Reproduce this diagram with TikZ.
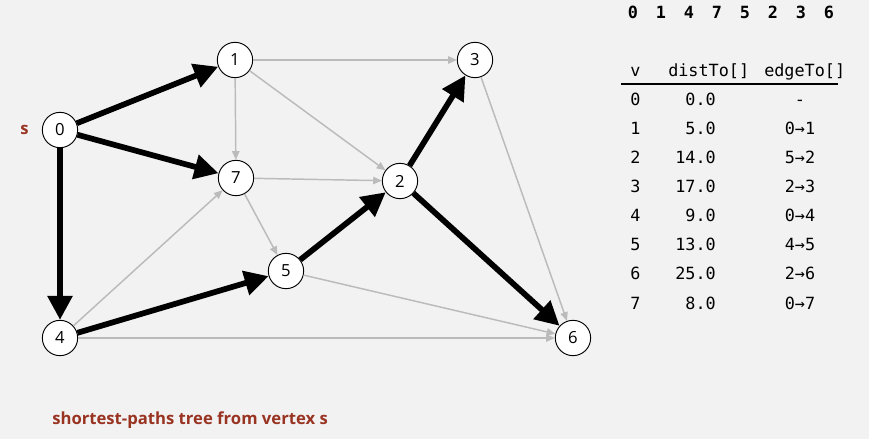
\documentclass[tikz,border=0pt]{standalone}
\usepackage{fontspec}
\setmainfont{Open Sans}
\setmonofont{DejaVu Sans Mono}
\usetikzlibrary{arrows.meta}
\definecolor{bggray}{HTML}{F2F2F2}
\definecolor{edgegray}{HTML}{BBBBBB}
\definecolor{capred}{HTML}{993322}

\begin{document}
\begin{tikzpicture}[x=0.75pt,y=-0.75pt,
  vtx/.style={circle,draw,fill=white,line width=0.7pt,minimum size=26.5pt,inner sep=0pt,font=\fontsize{12.5}{14}\selectfont},
  tree/.style={line width=4.3pt,-{Triangle[length=18pt,width=18pt]}},
  nontree/.style={edgegray,line width=1.1pt,-{Triangle[length=6.5pt,width=5.5pt]}},
  tab/.style={inner sep=0pt,font=\ttfamily\fontsize{12.6}{14}\selectfont},
  seq/.style={inner sep=0pt,font=\ttfamily\bfseries\fontsize{12.6}{14}\selectfont},
  redtext/.style={inner sep=0pt,text=capred,font=\bfseries\fontsize{12.5}{14}\selectfont}]
\fill[bggray] (0,0) rectangle (869,439);
\node[vtx] (v0) at (60,130) {0};
\node[vtx] (v1) at (235,60) {1};
\node[vtx] (v2) at (400,181) {2};
\node[vtx] (v3) at (475,60) {3};
\node[vtx] (v4) at (60,338) {4};
\node[vtx] (v5) at (286,271) {5};
\node[vtx] (v6) at (573,338) {6};
\node[vtx] (v7) at (236,178) {7};
\node[redtext,anchor=base west] (s) at (20,134) {s};
\draw[nontree] (v1) -- (v3);
\draw[nontree] (v1) -- (v7);
\draw[nontree] (v1) -- (v2);
\draw[nontree] (v7) -- (v2);
\draw[nontree] (v7) -- (v5);
\draw[nontree] (v4) -- (v7);
\draw[nontree] (v4) -- (v6);
\draw[nontree] (v5) -- (v6);
\draw[nontree] (v3) -- (v6);
\draw[tree] (v0) -- (v1);
\draw[tree] (v0) -- (v7);
\draw[tree] (v0) -- (v4);
\draw[tree] (v4) -- (v5);
\draw[tree] (v5) -- (v2);
\draw[tree] (v2) -- (v3);
\draw[tree] (v2) -- (v6);
\foreach \v [count=\i from 0] in {0,1,4,7,5,2,3,6}
  \node[seq,anchor=base] (q\i) at (633+28*\i,18) {\v};
\node[tab,anchor=base west] (hv) at (630,76) {v};
\node[tab,anchor=base west] (hd) at (668,76) {distTo[]};
\node[tab,anchor=base west] (he) at (764,76) {edgeTo[]};
\draw[line width=0.8pt] (621,84) -- (838,84);
\foreach \v/\d/\e [count=\i from 0] in {0/0.0/-,1/5.0/0→1,2/14.0/5→2,3/17.0/2→3,4/9.0/0→4,5/13.0/4→5,6/25.0/2→6,7/8.0/0→7}
 {
  \node[tab,anchor=base west] (r\v) at (630,105+29.15*\i) {\v};
  \node[tab,anchor=base east] (d\v) at (716,105+29.15*\i) {\d};
  \node[tab,anchor=base] (e\v) at (800,105+29.15*\i) {\e};
 }
\node[redtext,anchor=base west] (caption) at (52,424) {shortest-paths tree from vertex s};
\end{tikzpicture}
\end{document}
